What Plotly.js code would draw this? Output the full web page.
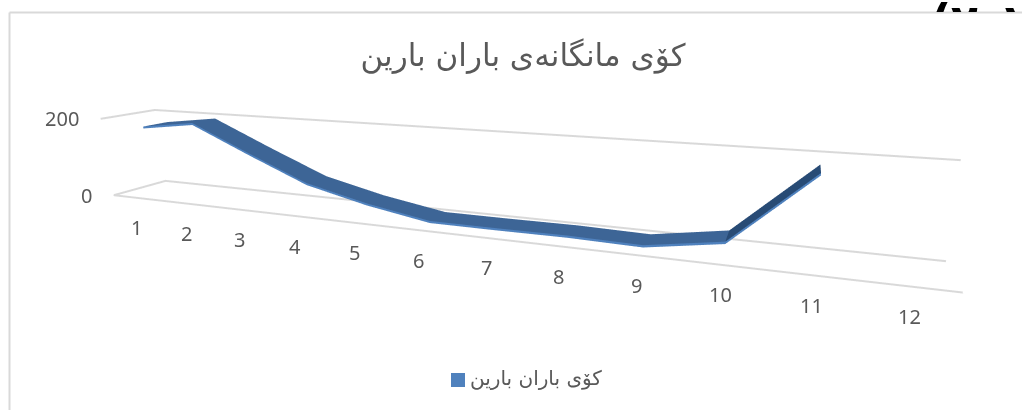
<!DOCTYPE html>
<html><head><meta charset="utf-8">
<script src="https://cdn.plot.ly/plotly-3.0.1.min.js"></script>
<style>
html,body{margin:0;padding:0;width:1022px;height:410px;overflow:hidden;background:#fff}
#chart{position:absolute;left:0;top:-103px;width:1138px;height:572px}
#clip{position:absolute;left:930px;top:0;width:92px;height:12px;overflow:hidden;z-index:5}
#clip span{position:absolute;left:1px;top:-5px;font:bold 44px "DejaVu Sans";color:#000;white-space:nowrap;direction:ltr}
</style></head><body>
<div id="chart"></div>
<div id="clip"><span>(۲۰۲</span></div>
<script>
const months=[1,2,3,4,5,6,7,8,9,10,11];
const rainfall=[172,190,125,63,28,2,2,3,0,26,177];
const tickLabels=['1','2','3','4','5','6','7','8','9','10','11','12'];
const valueTicks=[0,200];
const chartTitle='کۆی مانگانەی باران بارین';
const seriesName='کۆی باران بارین';

const W=1138,H=572,TOP=103;
const px=x=>x/W, py=y=>1-(y+TOP)/H;
const Y0=0.3,Y1=0.76,TH=5;

// repeat month 10 so the rising last stretch can carry its own shade
const xs=[],vs=[],shade=[];
months.forEach((m,i)=>{xs.push(m);vs.push(rainfall[i]);shade.push(i==months.length-1?1:0);
 if(i==months.length-2){xs.push(m);vs.push(rainfall[i]);shade.push(1);}});
const top_=vs.map(v=>v+TH);

const ribbon={type:'surface',x:[xs,xs],y:[xs.map(()=>Y0),xs.map(()=>Y1)],z:[top_,top_],
 surfacecolor:[shade,shade],cmin:0,cmax:1,colorscale:[[0,'#3d6596'],[1,'#284b75']],showscale:false,
 lighting:{ambient:1,diffuse:0,specular:0,roughness:1,fresnel:0},hoverinfo:'skip'};
const lip={type:'surface',x:[xs,xs],y:[xs.map(()=>Y0),xs.map(()=>Y0)],z:[top_,vs],
 surfacecolor:[xs.map(()=>0),xs.map(()=>0)],cmin:0,cmax:1,colorscale:[[0,'#4f81bd'],[1,'#4f81bd']],showscale:false,
 lighting:{ambient:1,diffuse:0,specular:0,roughness:1,fresnel:0},hoverinfo:'skip'};

const txt={family:'"Noto Sans","DejaVu Sans",sans-serif',size:20,color:'#595959'};
const sceneAnn=[];
tickLabels.forEach((t,i)=>sceneAnn.push({x:i+1,y:0,z:0,text:t,showarrow:false,yshift:-30,xshift:-1,font:txt}));
valueTicks.forEach(v=>sceneAnn.push({x:0.5,y:0,z:v,text:String(v),showarrow:false,xanchor:'right',xshift:-20,yshift:0,font:txt}));

const axisBase={showbackground:false,showticklabels:false,zeroline:false,showspikes:false,ticks:'',title:{text:''}};
const layout={
 width:W,height:H,margin:{l:0,r:0,t:0,b:0},paper_bgcolor:'rgba(0,0,0,0)',showlegend:false,
 title:{text:chartTitle,x:px(523),y:py(55),xanchor:'center',yanchor:'middle',font:{family:'"DejaVu Sans"',size:31,color:'#595959'}},
 scene:{domain:{x:[0,1],y:[0,1]},aspectmode:'manual',aspectratio:{x:1.0957,y:0.0879,z:0.1229},
  camera:{eye:{x:0.3842,y:-0.7489,z:0.20815},center:{x:0.1201,y:0.04,z:-0.00865},up:{x:0,y:0,z:1},projection:{type:'perspective'}},
  xaxis:{...axisBase,range:[0.5,12.5],showgrid:false,showline:true,linecolor:'#d9d9d9',linewidth:4},
  yaxis:{...axisBase,range:[0,1],showgrid:false,showline:false},
  zaxis:{...axisBase,range:[0,220],showgrid:true,gridcolor:'#d9d9d9',gridwidth:4,tickvals:valueTicks,showline:false},
  annotations:sceneAnn},
 shapes:[
  {type:'line',xref:'paper',yref:'paper',x0:px(9.5),x1:px(1022),y0:py(12.5),y1:py(12.5),line:{color:'#d9d9d9',width:2}},
  {type:'line',xref:'paper',yref:'paper',x0:px(9.5),x1:px(9.5),y0:py(12.5),y1:py(410),line:{color:'#d9d9d9',width:2}},
  {type:'rect',xref:'paper',yref:'paper',x0:px(451),x1:px(465),y0:py(373),y1:py(387),fillcolor:'#4f81bd',line:{width:0}}
 ],
 annotations:[{xref:'paper',yref:'paper',x:px(536),y:py(378),yanchor:'middle',text:seriesName,showarrow:false,font:{family:'"DejaVu Sans"',size:20,color:'#595959'}}]
};
Plotly.newPlot('chart',[ribbon,lip],layout,{displayModeBar:false});
</script></body></html>
